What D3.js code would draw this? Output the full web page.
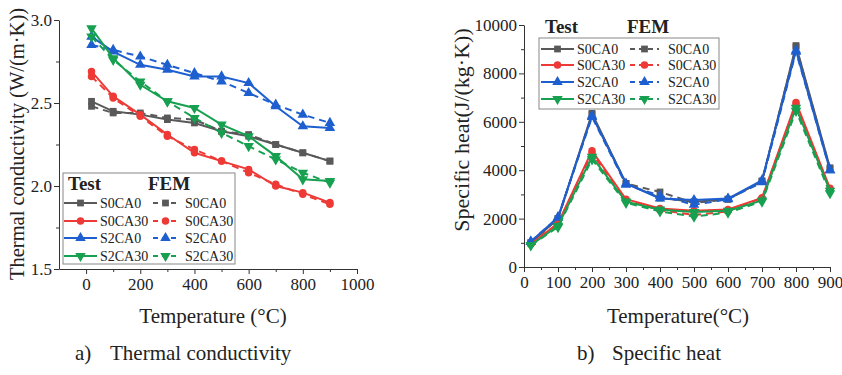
<!DOCTYPE html>
<html>
<head>
<meta charset="utf-8">
<script src="https://cdn.jsdelivr.net/npm/d3@7"></script>
<style>
  body { margin: 0; background: #fff; }
  svg { display: block; }
  svg text { font-family: "Liberation Serif", "Times New Roman", Times, serif; fill: #222; }
</style>
</head>
<body>
<svg id="fig" width="842" height="375"></svg>
<script>
// ---- data ----
const temps = [20, 100, 200, 300, 400, 500, 600, 700, 800, 900];
const seriesNames = ["S0CA0", "S0CA30", "S2CA0", "S2CA30"];

// a) thermal conductivity W/(m.K)
const condS0CA0Test  = [2.51, 2.45, 2.43, 2.40, 2.38, 2.33, 2.30, 2.25, 2.20, 2.15];
const condS0CA0Fem   = [2.48, 2.44, 2.44, 2.41, 2.40, 2.33, 2.31, 2.25, 2.20, 2.15];
const condS0CA30Test = [2.69, 2.54, 2.43, 2.31, 2.20, 2.15, 2.10, 2.00, 1.96, 1.90];
const condS0CA30Fem  = [2.66, 2.53, 2.42, 2.30, 2.22, 2.15, 2.08, 2.01, 1.95, 1.89];
const condS2CA0Test  = [2.90, 2.81, 2.73, 2.70, 2.66, 2.66, 2.62, 2.48, 2.36, 2.35];
const condS2CA0Fem   = [2.85, 2.82, 2.78, 2.73, 2.68, 2.63, 2.56, 2.49, 2.43, 2.38];
const condS2CA30Test = [2.95, 2.77, 2.61, 2.51, 2.47, 2.37, 2.30, 2.18, 2.04, 2.03];
const condS2CA30Fem  = [2.90, 2.76, 2.63, 2.51, 2.41, 2.32, 2.24, 2.16, 2.08, 2.02];

// b) specific heat J/(kg.K)
const heatS0CA0Test  = [1000, 2000, 6350, 3450, 2850, 2700, 2800, 3550, 9150, 4100];
const heatS0CA0Fem   = [1000, 2000, 6300, 3450, 3100, 2650, 2800, 3550, 9100, 4050];
const heatS0CA30Test = [950, 1800, 4800, 2800, 2420, 2320, 2380, 2850, 6800, 3250];
const heatS0CA30Fem  = [950, 1800, 4700, 2750, 2350, 2150, 2300, 2850, 6700, 3200];
const heatS2CA0Test  = [1050, 2050, 6250, 3450, 2830, 2770, 2830, 3580, 8950, 4000];
const heatS2CA0Fem   = [1050, 2050, 6200, 3400, 2950, 2570, 2800, 3500, 8900, 4000];
const heatS2CA30Test = [900, 1700, 4550, 2700, 2370, 2270, 2320, 2750, 6580, 3150];
const heatS2CA30Fem  = [900, 1650, 4450, 2650, 2300, 2080, 2250, 2700, 6450, 3050];

const condX = [0, 200, 400, 600, 800, 1000];
const condXMinor = [100, 300, 500, 700, 900];
const condY = [1.5, 2.0, 2.5, 3.0];
const condYMinor = [1.75, 2.25, 2.75];
const heatX = [0, 100, 200, 300, 400, 500, 600, 700, 800, 900];
const heatXMinor = [50, 150, 250, 350, 450, 550, 650, 750, 850];
const heatY = [0, 2000, 4000, 6000, 8000, 10000];
const heatYMinor = [1000, 3000, 5000, 7000, 9000];

const condTest = [condS0CA0Test, condS0CA30Test, condS2CA0Test, condS2CA30Test];
const condFem  = [condS0CA0Fem, condS0CA30Fem, condS2CA0Fem, condS2CA30Fem];
const heatTest = [heatS0CA0Test, heatS0CA30Test, heatS2CA0Test, heatS2CA30Test];
const heatFem  = [heatS0CA0Fem, heatS0CA30Fem, heatS2CA0Fem, heatS2CA30Fem];

// ---- styling ----
const FONT = '"Liberation Serif", "Times New Roman", Times, serif';
const colors = ["#595959", "#ee3a36", "#1e5fd0", "#17a050"];
const symbols = [
  { type: d3.symbolSquare, size: 46, rot: 0 },
  { type: d3.symbolCircle, size: 44, rot: 0 },
  { type: d3.symbolTriangle, size: 48, rot: 0 },
  { type: d3.symbolTriangle, size: 48, rot: 180 }
];
const dash = "7,5";

const svg = d3.select("#fig");

function marker(g, i, cx, cy) {
  const s = symbols[i];
  g.append("path")
    .attr("d", d3.symbol(s.type, s.size)())
    .attr("transform", `translate(${cx},${cy}) rotate(${s.rot})`)
    .attr("fill", colors[i]);
}

function label(g, x, y, size, txt) {
  return g.append("text").attr("x", x).attr("y", y)
    .style("font-family", FONT).style("font-size", size + "px").text(txt);
}

function drawPanel(p) {
  const g = svg.append("g");
  const x = p.x, y = p.y;
  const y0 = y.range()[0];
  const x0 = x.range()[0];

  // x axis
  const gx = g.append("g").attr("transform", `translate(0,${y0})`)
    .call(d3.axisBottom(x).tickValues(p.xTicks).tickSize(5).tickSizeOuter(0).tickPadding(4).tickFormat(d3.format("d")));
  g.append("g").attr("transform", `translate(0,${y0})`)
    .call(d3.axisBottom(x).tickValues(p.xMinor).tickSize(3).tickSizeOuter(0).tickFormat(""))
    .select(".domain").remove();
  // y axis
  const gy = g.append("g").attr("transform", `translate(${x0},0)`)
    .call(d3.axisLeft(y).tickValues(p.yTicks).tickSize(5).tickSizeOuter(0).tickPadding(2).tickFormat(p.yFmt));
  g.append("g").attr("transform", `translate(${x0},0)`)
    .call(d3.axisLeft(y).tickValues(p.yMinor).tickSize(3).tickSizeOuter(0).tickFormat(""))
    .select(".domain").remove();

  g.selectAll(".domain, .tick line").attr("stroke", "#333").attr("stroke-width", 1);
  [gx, gy].forEach((a) => a.selectAll("text")
    .style("font-family", FONT).style("font-size", p.tickFont + "px").attr("fill", "#222"));

  // series
  const line = d3.line().x((d) => x(d[0])).y((d) => y(d[1]));
  seriesNames.forEach((name, i) => {
    [p.test[i], p.fem[i]].forEach((vals, k) => {
      const pts = temps.map((t, j) => [t, vals[j]]);
      g.append("path")
        .attr("d", line(pts))
        .attr("fill", "none")
        .attr("stroke", colors[i])
        .attr("stroke-width", 2)
        .attr("stroke-dasharray", k ? dash : null);
      pts.forEach((d) => marker(g, i, x(d[0]), y(d[1])));
    });
  });

  // axis titles
  g.append("text")
    .attr("transform", `translate(${p.yLab.x},${p.yLab.y}) rotate(-90)`)
    .attr("text-anchor", "middle")
    .style("font-family", FONT)
    .style("font-size", p.yLab.size + "px")
    .text(p.yLab.text);
  label(g, p.xLab.x, 323, 21, p.xLab.text).attr("text-anchor", "middle");

  // caption
  label(g, p.cap.x, 360, 21, p.cap.tag);
  label(g, p.cap.x2, 360, 21, p.cap.text);

  // legend
  const L = p.leg;
  const lg = g.append("g");
  if (L.box) {
    lg.append("rect").attr("x", L.box[0]).attr("y", L.box[1])
      .attr("width", L.box[2]).attr("height", L.box[3])
      .attr("fill", "#fff").attr("stroke", "#888").attr("stroke-width", 1);
  }
  label(lg, L.headX[0], L.headY, 19, "Test").style("font-weight", "bold");
  label(lg, L.headX[1], L.headY, 19, "FEM").style("font-weight", "bold");
  seriesNames.forEach((name, i) => {
    const ry = L.rows[i];
    L.cols.forEach((c, k) => {
      lg.append("line").attr("x1", c.x1).attr("x2", c.x2).attr("y1", ry).attr("y2", ry)
        .attr("stroke", colors[i]).attr("stroke-width", 2)
        .attr("stroke-dasharray", k ? "5,4" : null);
      marker(lg, i, (c.x1 + c.x2) / 2, ry);
      label(lg, c.tx, ry + 5, L.font, name);
    });
  });
}

drawPanel({
  x: d3.scaleLinear([-100, 1000], [59, 357]),
  y: d3.scaleLinear([1.5, 3.0], [269, 20]),
  xTicks: condX, xMinor: condXMinor, yTicks: condY, yMinor: condYMinor,
  yFmt: d3.format(".1f"), tickFont: 17,
  test: condTest, fem: condFem,
  yLab: { text: "Thermal conductivity (W/(m·K))", x: 24, y: 144, size: 20.5 },
  xLab: { text: "Temperature (°C)", x: 213 },
  cap: { tag: "a)", x: 75, x2: 110, text: "Thermal conductivity" },
  leg: {
    box: [63, 173, 172, 91],
    headX: [68, 148], headY: 190,
    rows: [203, 221, 238, 256],
    cols: [{ x1: 64, x2: 97, tx: 100 }, { x1: 153, x2: 178, tx: 185 }],
    font: 14
  }
});

drawPanel({
  x: d3.scaleLinear([0, 900], [524, 830]),
  y: d3.scaleLinear([0, 10000], [267, 25]),
  xTicks: heatX, xMinor: heatXMinor, yTicks: heatY, yMinor: heatYMinor,
  yFmt: d3.format("d"), tickFont: 17,
  test: heatTest, fem: heatFem,
  yLab: { text: "Specific heat(J/(kg·K))", x: 469, y: 130, size: 22 },
  xLab: { text: "Temperature(°C)", x: 678 },
  cap: { tag: "b)", x: 577, x2: 612, text: "Specific heat" },
  leg: {
    box: [539, 38, 180, 71],
    headX: [545, 627], headY: 33,
    rows: [49, 65, 82, 99],
    cols: [{ x1: 541, x2: 574, tx: 577 }, { x1: 630, x2: 659, tx: 668 }],
    font: 14
  }
});
</script>
</body>
</html>
